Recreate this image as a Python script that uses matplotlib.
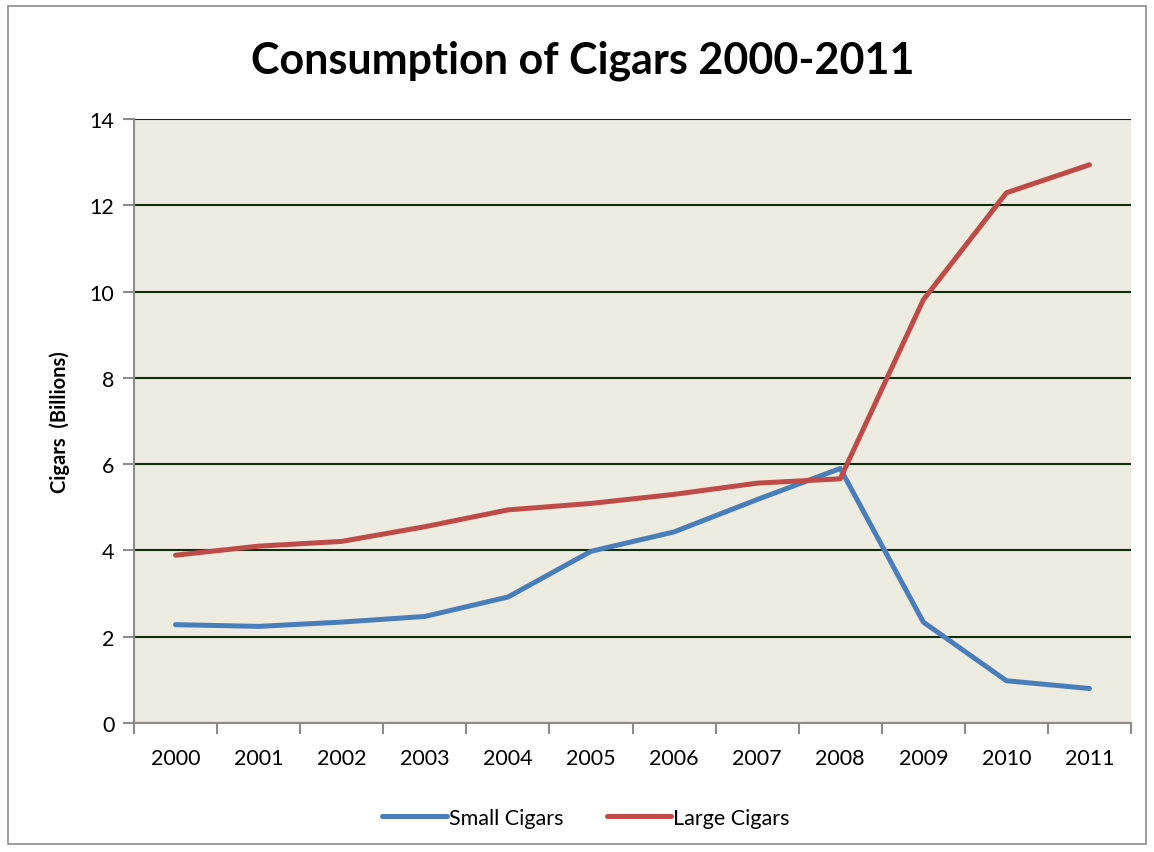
import matplotlib.pyplot as plt
from matplotlib.patches import Rectangle

years = ['2000', '2001', '2002', '2003', '2004', '2005',
         '2006', '2007', '2008', '2009', '2010', '2011']
small_cigars = [2.28, 2.24, 2.34, 2.47, 2.92, 3.98, 4.43, 5.18, 5.90, 2.34, 0.98, 0.80]
large_cigars = [3.89, 4.10, 4.21, 4.55, 4.94, 5.09, 5.30, 5.56, 5.66, 9.81, 12.29, 12.94]

plt.rcParams['font.family'] = ['Lato', 'DejaVu Sans']

fig = plt.figure(figsize=(11.54, 8.53), dpi=100)
ax = fig.add_axes([0.1161, 0.1512, 0.8640, 0.7081])

# outer chart border
fig.patches.append(Rectangle((0.007, 0.009), 0.986, 0.983, transform=fig.transFigure,
                             fill=False, edgecolor='#8c8c8c', linewidth=1.2))

x = list(range(len(years)))
ax.plot(x, small_cigars, color='#4A7EBB', linewidth=3.6, label='Small Cigars',
        solid_capstyle='round', solid_joinstyle='round')
ax.plot(x, large_cigars, color='#BE4B48', linewidth=3.6, label='Large Cigars',
        solid_capstyle='round', solid_joinstyle='round')

ax.set_facecolor('#EEEBE0')
ax.set_xlim(-0.5, len(years) - 0.5)
ax.set_ylim(0, 14)
ax.set_yticks(range(0, 15, 2))
ax.yaxis.grid(True, color='#0f2e0f', linewidth=1.5)
ax.set_axisbelow(True)

ax.set_xticks(x)
ax.set_xticklabels(years)
ax.set_xticks([i - 0.5 for i in range(len(years) + 1)], minor=True)
ax.tick_params(axis='x', which='major', length=0, pad=18, labelsize=15.5)
ax.tick_params(axis='x', which='minor', length=8, width=1.5, color='#8c8c8c', direction='out')
ax.tick_params(axis='y', length=8, width=1.5, color='#8c8c8c', direction='out', labelsize=15.5, pad=6)

for side in ['top', 'right']:
    ax.spines[side].set_visible(False)
for side in ['left', 'bottom']:
    ax.spines[side].set_color('#8c8c8c')
    ax.spines[side].set_linewidth(1.5)

ax.set_ylabel('Cigars  (Billions)', fontsize=14.5, fontweight='bold', labelpad=14)
fig.text(0.505, 0.929, 'Consumption of Cigars 2000-2011', fontsize=31, fontweight='bold',
         ha='center', va='center')

fig.legend(loc='lower center', bbox_to_anchor=(0.508, 0.006), ncol=2, frameon=False,
           fontsize=15.5, handlelength=3.0, handletextpad=0.1, columnspacing=2.0)

fig.savefig('out.png', dpi=100)
